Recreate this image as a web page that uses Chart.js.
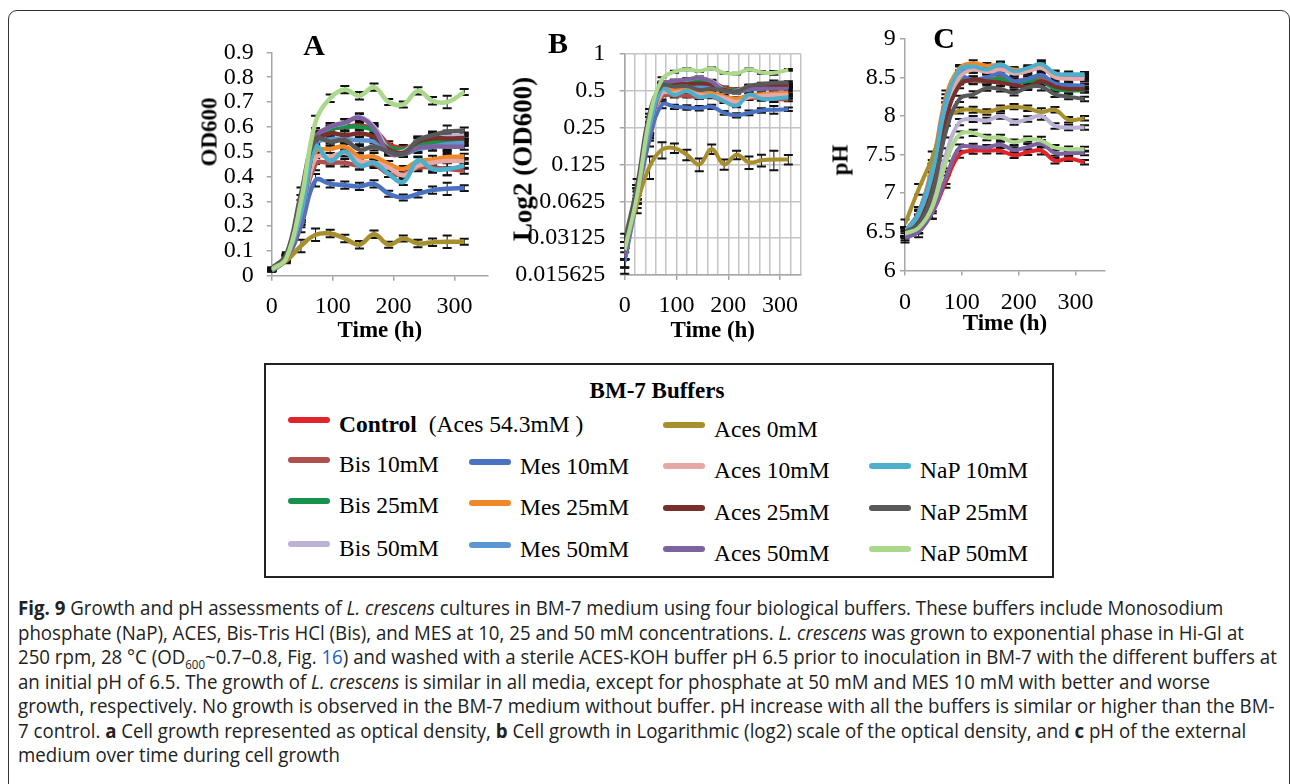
<!DOCTYPE html>
<html>
<head>
<meta charset="utf-8">
<title>BM-7 buffers</title>
<script src="https://cdn.jsdelivr.net/npm/chart.js@4.4.1/dist/chart.umd.min.js"></script>
<style>
  html, body { margin: 0; padding: 0; background: #fff; }
  body { width: 1290px; height: 784px; position: relative; overflow: hidden;
         font-family: 'Liberation Serif', 'Times New Roman', serif; color: #000; }
  .frame { position: absolute; left: 8px; top: 10px; width: 1282px; height: 800px;
           border: 1.5px solid #333; border-radius: 9px; box-sizing: border-box; }
  canvas { position: absolute; }
  .letter { position: absolute; font-weight: bold; font-size: 30px; line-height: 30px;
            transform: translate(-50%, -50%); }
  .ytitle { position: absolute; font-weight: bold; white-space: nowrap; line-height: 1;
            transform: translate(-50%, -50%) rotate(-90deg); }
  #legendBox { position: absolute; left: 264px; top: 363px; width: 790px; height: 215px;
               border: 2px solid #222; box-sizing: border-box; }
  #legendTitle { position: absolute; left: 657px; top: 390px; transform: translate(-50%, -50%);
                 font-weight: bold; font-size: 23px; line-height: 1; white-space: nowrap; }
  .item { position: absolute; height: 24px; display: flex; align-items: center; white-space: nowrap;
          font-size: 23.5px; line-height: 24px; }
  .swatch { width: 42px; height: 6px; border-radius: 3px; margin-right: 9px; position: relative; top: -4px; }
  #caption { position: absolute; left: 18px; top: 596px; transform-origin: 0 0;
             font-family: 'Open Sans', 'Noto Sans', sans-serif; font-size: 19.5px; line-height: 24.5px; color: #222; }
  #caption div { white-space: nowrap; }
  #caption sub { font-size: 12px; line-height: 0; }
  .link { color: #1f5fbf; }
</style>
</head>
<body>
<div class="frame"></div>

<canvas id="chartA" width="310" height="320" style="left:190px; top:25px;"></canvas>
<canvas id="chartB" width="310" height="320" style="left:505px; top:25px;"></canvas>
<canvas id="chartC" width="290" height="318" style="left:826px; top:20px;"></canvas>

<div class="letter" style="left:314px; top:45px;">A</div>
<div class="letter" style="left:558px; top:43px;">B</div>
<div class="letter" style="left:944px; top:38px;">C</div>

<div class="ytitle" style="left:209px; top:132px; font-size:23px;">OD600</div>
<div class="ytitle" style="left:523px; top:159px; font-size:27px;">Log2 (OD600)</div>
<div class="ytitle" style="left:840px; top:160px; font-size:23px;">pH</div>

<div id="legendBox"></div>
<div id="legendTitle">BM-7 Buffers</div>
<div id="legendItems"></div>

<div id="caption">
  <div><b>Fig. 9</b> Growth and pH assessments of <i>L. crescens</i> cultures in BM-7 medium using four biological buffers. These buffers include Monosodium</div>
  <div>phosphate (NaP), ACES, Bis-Tris HCl (Bis), and MES at 10, 25 and 50&nbsp;mM concentrations. <i>L. crescens</i> was grown to exponential phase in Hi-GI at</div>
  <div id="capWide">250&nbsp;rpm, 28&nbsp;°C (OD<sub>600</sub>~0.7–0.8, Fig. <span class="link">16</span>) and washed with a sterile ACES-KOH buffer pH&nbsp;6.5 prior to inoculation in BM-7 with the different buffers at</div>
  <div>an initial pH of 6.5. The growth of <i>L. crescens</i> is similar in all media, except for phosphate at 50&nbsp;mM and MES 10&nbsp;mM with better and worse</div>
  <div>growth, respectively. No growth is observed in the BM-7 medium without buffer. pH increase with all the buffers is similar or higher than the BM-</div>
  <div>7 control. <b>a</b> Cell growth represented as optical density, <b>b</b> Cell growth in Logarithmic (log2) scale of the optical density, and <b>c</b> pH of the external</div>
  <div>medium over time during cell growth</div>
</div>

<script>
// sampling times (h)
const hours = [0, 24, 48, 72, 96, 120, 144, 168, 192, 216, 240, 264, 288, 316];

const seriesNames = ['Control (Aces 54.3mM)', 'Bis 10mM', 'Bis 25mM', 'Bis 50mM',
  'Mes 10mM', 'Mes 25mM', 'Mes 50mM', 'Aces 0mM', 'Aces 10mM', 'Aces 25mM', 'Aces 50mM',
  'NaP 10mM', 'NaP 25mM', 'NaP 50mM'];
const seriesColors = ['#e0242a', '#b0504c', '#17924a', '#bcb2d6',
  '#4a72c2', '#f0882a', '#5b95d2', '#a88f2e', '#e6a8a7', '#7a2f2c', '#7d62a0',
  '#4cb0cc', '#595959', '#acd88c'];

// OD600
const odControl = [0.025, 0.075, 0.25, 0.56, 0.59, 0.60, 0.605, 0.59, 0.53, 0.515, 0.53, 0.54, 0.535, 0.54];
const odBis10   = [0.025, 0.075, 0.24, 0.45, 0.455, 0.455, 0.443, 0.449, 0.41, 0.41, 0.436, 0.436, 0.43, 0.423];
const odBis25   = [0.025, 0.075, 0.25, 0.55, 0.59, 0.60, 0.60, 0.585, 0.52, 0.51, 0.525, 0.535, 0.545, 0.55];
const odBis50   = [0.025, 0.07, 0.24, 0.55, 0.60, 0.615, 0.64, 0.60, 0.51, 0.50, 0.545, 0.56, 0.56, 0.565];
const odMes10   = [0.02, 0.065, 0.20, 0.385, 0.37, 0.365, 0.36, 0.37, 0.33, 0.315, 0.33, 0.345, 0.35, 0.353];
const odMes25   = [0.022, 0.07, 0.23, 0.50, 0.51, 0.52, 0.48, 0.48, 0.45, 0.43, 0.462, 0.468, 0.478, 0.48];
const odMes50   = [0.022, 0.07, 0.23, 0.53, 0.55, 0.55, 0.545, 0.54, 0.50, 0.49, 0.51, 0.52, 0.53, 0.535];
const odAces0   = [0.025, 0.06, 0.12, 0.165, 0.17, 0.15, 0.125, 0.167, 0.125, 0.15, 0.13, 0.135, 0.137, 0.137];
const odAces10  = [0.025, 0.075, 0.24, 0.475, 0.48, 0.495, 0.462, 0.455, 0.436, 0.404, 0.443, 0.455, 0.462, 0.462];
const odAces25  = [0.025, 0.075, 0.25, 0.54, 0.573, 0.566, 0.573, 0.56, 0.51, 0.495, 0.54, 0.553, 0.553, 0.555];
const odAces50  = [0.022, 0.07, 0.22, 0.553, 0.60, 0.617, 0.637, 0.592, 0.495, 0.49, 0.515, 0.52, 0.52, 0.52];
const odNaP10   = [0.025, 0.075, 0.25, 0.52, 0.462, 0.50, 0.443, 0.455, 0.41, 0.378, 0.465, 0.43, 0.43, 0.443];
const odNaP25   = [0.03, 0.085, 0.33, 0.553, 0.54, 0.546, 0.508, 0.52, 0.50, 0.49, 0.546, 0.566, 0.58, 0.585];
const odNaP50   = [0.025, 0.07, 0.30, 0.62, 0.715, 0.75, 0.725, 0.76, 0.70, 0.69, 0.745, 0.705, 0.70, 0.74];
const odError   = [0.004, 0.01, 0.025, 0.025, 0.015, 0.015, 0.015, 0.015, 0.012, 0.012, 0.015, 0.015, 0.025, 0.012];

// external pH
const phControl = [6.5, 6.55, 6.75, 7.15, 7.5, 7.55, 7.55, 7.55, 7.49, 7.53, 7.55, 7.42, 7.45, 7.4];
const phBis10   = [6.5, 6.65, 7.1, 8.0, 8.45, 8.45, 8.45, 8.5, 8.45, 8.48, 8.5, 8.4, 8.38, 8.38];
const phBis25   = [6.5, 6.65, 7.1, 8.0, 8.45, 8.47, 8.45, 8.48, 8.42, 8.45, 8.45, 8.35, 8.33, 8.33];
const phBis50   = [6.45, 6.55, 6.85, 7.5, 7.92, 7.96, 7.94, 8.0, 7.92, 7.96, 8.0, 7.87, 7.85, 7.85];
const phMes10   = [6.5, 6.75, 7.3, 8.15, 8.5, 8.47, 8.5, 8.55, 8.45, 8.48, 8.53, 8.42, 8.4, 8.39];
const phMes25   = [6.5, 6.75, 7.35, 8.25, 8.62, 8.68, 8.65, 8.66, 8.6, 8.6, 8.65, 8.55, 8.52, 8.52];
const phMes50   = [6.5, 6.75, 7.3, 8.2, 8.55, 8.6, 8.58, 8.62, 8.55, 8.58, 8.62, 8.52, 8.5, 8.5];
const phAces0   = [6.6, 7.05, 7.46, 7.95, 8.07, 8.08, 8.05, 8.1, 8.12, 8.1, 8.05, 8.08, 7.95, 7.97];
const phAces10  = [6.5, 6.7, 7.2, 8.1, 8.5, 8.6, 8.57, 8.6, 8.55, 8.58, 8.62, 8.5, 8.48, 8.48];
const phAces25  = [6.5, 6.65, 7.1, 7.95, 8.4, 8.47, 8.45, 8.43, 8.4, 8.38, 8.45, 8.38, 8.35, 8.35];
const phAces50  = [6.42, 6.5, 6.75, 7.2, 7.59, 7.6, 7.59, 7.63, 7.56, 7.6, 7.64, 7.52, 7.52, 7.52];
const phNaP10   = [6.5, 6.72, 7.25, 8.15, 8.6, 8.64, 8.6, 8.67, 8.58, 8.62, 8.67, 8.55, 8.54, 8.54];
const phNaP25   = [6.5, 6.6, 7.0, 7.8, 8.22, 8.28, 8.36, 8.35, 8.3, 8.37, 8.38, 8.28, 8.25, 8.22];
const phNaP50   = [6.48, 6.55, 6.82, 7.4, 7.76, 7.78, 7.72, 7.72, 7.66, 7.7, 7.68, 7.59, 7.57, 7.57];
const phError   = [0.06, 0.07, 0.08, 0.08, 0.04, 0.04, 0.035, 0.035, 0.035, 0.035, 0.05, 0.035, 0.035, 0.03];

// axis tick labels
const timeTicks = [0, 100, 200, 300];
const odTicks = [0, 0.1, 0.2, 0.3, 0.4, 0.5, 0.6, 0.7, 0.8, 0.9];
const log2Ticks = [0.015625, 0.03125, 0.0625, 0.125, 0.25, 0.5, 1];
const phTicks = [6, 6.5, 7, 7.5, 8, 8.5, 9];

const odSeries = [odControl, odBis10, odBis25, odBis50, odMes10, odMes25, odMes50,
  odAces0, odAces10, odAces25, odAces50, odNaP10, odNaP25, odNaP50];
const phSeries = [phControl, phBis10, phBis25, phBis50, phMes10, phMes25, phMes50,
  phAces0, phAces10, phAces25, phAces50, phNaP10, phNaP25, phNaP50];

const serif = "'Liberation Serif', 'Times New Roman', serif";
const axisGray = '#a6a6a6';

// black error bars, painted before the lines so the lines sit on top
const errorBars = {
  id: 'errorBars',
  beforeDatasetsDraw(chart, args, opts) {
    const err = opts.values;
    if (!err) return;
    const { ctx, scales: { x, y } } = chart;
    ctx.save();
    ctx.strokeStyle = '#111';
    chart.data.datasets.forEach(ds => {
      ds.data.forEach((p, k) => {
        const px = x.getPixelForValue(p.x);
        const top = y.getPixelForValue(p.y + err[k]);
        const bot = y.getPixelForValue(Math.max(p.y - err[k], y.min));
        ctx.lineWidth = 1;
        ctx.beginPath(); ctx.moveTo(px, top); ctx.lineTo(px, bot); ctx.stroke();
        ctx.lineWidth = 2;
        ctx.beginPath();
        ctx.moveTo(px - 4.5, top); ctx.lineTo(px + 4.5, top);
        ctx.moveTo(px - 4.5, bot); ctx.lineTo(px + 4.5, bot);
        ctx.stroke();
      });
    });
    ctx.restore();
  }
};

function makeDatasets(valueSets, width) {
  return valueSets.map((vals, i) => ({
    label: seriesNames[i],
    data: hours.map((h, k) => ({ x: h, y: vals[k] })),
    borderColor: seriesColors[i],
    backgroundColor: seriesColors[i],
    borderWidth: width,
    pointRadius: 0,
    tension: 0.4,
    fill: false,
    order: valueSets.length - i
  }));
}

function tickFont() { return { family: serif, size: 24 }; }

function buildChart(id, opt) {
  new Chart(document.getElementById(id), {
    type: 'line',
    data: { datasets: makeDatasets(opt.values, opt.lineWidth) },
    options: {
      responsive: false,
      animation: false,
      devicePixelRatio: 1,
      layout: { padding: { top: opt.padTop, right: opt.padRight, left: 0, bottom: 0 } },
      plugins: {
        legend: { display: false },
        tooltip: { enabled: false },
        errorBars: { values: opt.errors }
      },
      scales: {
        x: opt.x,
        y: opt.y
      }
    },
    plugins: [errorBars]
  });
}

function timeAxis(max, xHeight, labelPad, grid) {
  return {
    type: 'linear', min: 0, max: max,
    afterBuildTicks: axis => {
      axis.ticks = grid
        ? Array.from({ length: Math.floor(max / grid) + 1 }, (_, i) => ({ value: i * grid }))
        : timeTicks.map(v => ({ value: v }));
    },
    afterFit: s => { s.height = xHeight; },
    grid: grid
      ? { color: '#c4c4c4', lineWidth: 1.5, tickLength: 5,
          tickColor: c => (c.tick && timeTicks.includes(c.tick.value)) ? axisGray : 'rgba(0,0,0,0)' }
      : { drawOnChartArea: false, tickLength: 5, tickColor: axisGray, color: axisGray, lineWidth: 1.5 },
    border: { display: true, color: axisGray, width: 1.5 },
    ticks: {
      color: '#000', font: tickFont(), padding: labelPad, maxRotation: 0, autoSkip: false,
      callback: v => timeTicks.includes(v) ? String(v) : ''
    },
    title: { display: true, text: 'Time (h)', color: '#000', padding: 0,
             font: { family: serif, size: 23, weight: 'bold' } }
  };
}

function valueAxis(type, min, max, ticks, yWidth, labelPad, gridOn) {
  return {
    type: type, min: min, max: max,
    afterBuildTicks: axis => { axis.ticks = ticks.map(v => ({ value: v })); },
    afterFit: s => { s.width = yWidth; },
    grid: gridOn
      ? { color: '#c4c4c4', lineWidth: 1.5, tickLength: 5, tickColor: axisGray }
      : { drawOnChartArea: false, tickLength: 5, tickColor: axisGray, color: axisGray, lineWidth: 1.5 },
    border: { display: true, color: axisGray, width: 1.5 },
    ticks: { color: '#000', font: tickFont(), padding: labelPad, autoSkip: false,
             callback: v => String(v) }
  };
}

// A: optical density
buildChart('chartA', {
  values: odSeries, errors: odError, lineWidth: 4.5,
  padTop: 19, padRight: 12,
  x: timeAxis(355, 69.3, 11.5, 0),
  y: valueAxis('linear', 0, 0.9, odTicks, 81.7, 13, false)
});

// B: optical density on a log2 axis
buildChart('chartB', {
  values: odSeries, errors: odError, lineWidth: 4,
  padTop: 17.7, padRight: 14.2,
  x: timeAxis(340, 70, 11.2, 20),
  y: valueAxis('logarithmic', 0.015625, 1, log2Ticks, 119.7, 14.5, true)
});

// C: external pH
buildChart('chartC', {
  values: phSeries, errors: phError, lineWidth: 4,
  padTop: 17.3, padRight: 11,
  x: timeAxis(352, 67.6, 13.3, 0),
  y: valueAxis('linear', 6, 9, phTicks, 79, 4.3, false)
});

// legend: four columns, the right two sit a few px lower
const legendColX = [288, 469, 663, 869];
const legendRowY = [[424, 464, 505, 548], [424, 466, 507, 549], [429, 470, 512, 553], [429, 470, 512, 553]];
const legendSlots = [[0, 0], [0, 1], [0, 2], [0, 3], [1, 1], [1, 2], [1, 3],
  [2, 0], [2, 1], [2, 2], [2, 3], [3, 1], [3, 2], [3, 3]];

const legendItems = document.getElementById('legendItems');
seriesNames.forEach((name, i) => {
  const [col, row] = legendSlots[i];
  const item = document.createElement('div');
  item.className = 'item';
  item.style.left = legendColX[col] + 'px';
  item.style.top = (legendRowY[col][row] - 12) + 'px';
  const label = i === 0 ? '<b>Control</b>&nbsp; (Aces 54.3mM )' : name;
  item.innerHTML = `<span class="swatch" style="background:${seriesColors[i]}"></span><span>${label}</span>`;
  legendItems.appendChild(item);
});

// squeeze the caption so its longest line spans the panel width
function fitCaption() {
  const cap = document.getElementById('caption');
  cap.style.transform = 'none';
  const w = document.getElementById('capWide').scrollWidth;
  if (w > 0) cap.style.transform = `scaleX(${1259 / w})`;
}
fitCaption();
window.addEventListener('load', fitCaption);
if (document.fonts) document.fonts.ready.then(fitCaption);
</script>
</body>
</html>
